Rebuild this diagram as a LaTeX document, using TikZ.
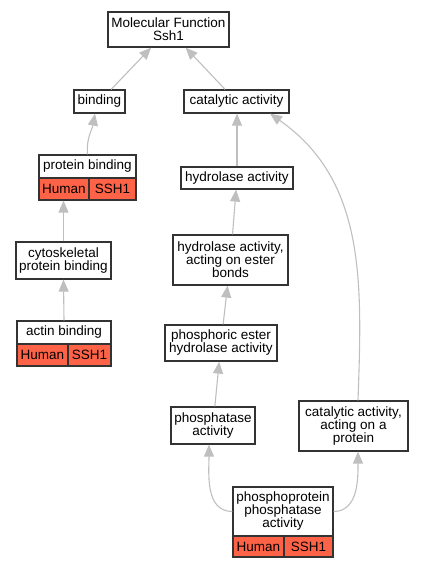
\documentclass[tikz,border=0pt]{standalone}
\usepackage{fontspec}
\setmainfont{Liberation Sans}
\usetikzlibrary{arrows.meta}
\definecolor{tomatored}{RGB}{255,99,71}

\begin{document}
\begin{tikzpicture}[x=1pt, y=1pt,
  term/.style={draw=black!80, line width=1.2pt, fill=white, inner sep=0pt,
    align=center, font=\fontsize{13.5}{13}\selectfont},
  cell/.style={term, fill=tomatored},
  edge/.style={draw=black!25, line width=1.1pt, -{Triangle[length=12pt,width=10pt]}}]
  \useasboundingbox (0,0) rectangle (423,-568);
	%Top term
	\node[term, minimum width=121, minimum height=35] (mf) at (168.5,-29.5) {Molecular Function\\Ssh1};
	%Binding branch
	\node[term, minimum width=51, minimum height=23] (bind) at (99.5,-101.5) {binding};
	\node[term, minimum width=97, minimum height=23] (pb) at (87.5,-166.5) {protein binding};
	\node[cell, minimum width=50, minimum height=22] (pbh) at (64,-189) {Human};
	\node[cell, minimum width=47, minimum height=22] (pbs) at (112.5,-189) {SSH1};
	\node[term, minimum width=95, minimum height=37] (cyto) at (63.5,-260.5) {cytoskeletal\\protein binding};
	\node[term, minimum width=94, minimum height=23] (actin) at (64,-332.5) {actin binding};
	\node[cell, minimum width=51, minimum height=22] (actinh) at (42.5,-355) {Human};
	\node[cell, minimum width=43, minimum height=22] (actins) at (89.5,-355) {SSH1};
	%Catalytic branch
	\node[term, minimum width=105, minimum height=23] (cat) at (236.5,-101.5) {catalytic activity};
	\node[term, minimum width=112, minimum height=22] (hyd) at (237,-178) {hydrolase activity};
	\node[term, minimum width=115, minimum height=50] (ester) at (230.5,-260) {hydrolase activity,\\acting on ester\\bonds};
	\node[term, minimum width=112, minimum height=36] (phos) at (221,-343) {phosphoric ester\\hydrolase activity};
	\node[term, minimum width=84, minimum height=37] (ptase) at (213,-425.5) {phosphatase\\activity};
	\node[term, minimum width=109, minimum height=50] (catp) at (353.5,-426) {catalytic activity,\\acting on a\\protein};
	\node[term, minimum width=100, minimum height=49] (ppp) at (283,-511.5) {phosphoprotein\\phosphatase\\activity};
	\node[cell, minimum width=51, minimum height=21] (ppph) at (258.5,-546.5) {Human};
	\node[cell, minimum width=49, minimum height=21] (ppps) at (308.5,-546.5) {SSH1};
	%Edges
	\draw[edge] (bind) -- (mf);
	\draw[edge] (cat) -- (mf);
	\draw[edge] (pb.north) to[out=95,in=-100] ([xshift=-4.5pt]bind.south);
	\draw[edge] (cyto.north) -- (cyto.north |- pbh.south);
	\draw[edge] (actin.north) -- (cyto.south);
	\draw[edge] (hyd.north) -- (hyd.north |- cat.south);
	\draw[edge] (ester) -- (hyd);
	\draw[edge] (phos) -- (ester);
	\draw[edge] (ptase) -- (phos);
	\draw[edge] ([xshift=4.5pt]catp.north) to[out=88,in=-35] ([xshift=33.5pt]cat.south);
	\draw[edge] (ppp.west) to[out=180,in=-90] ([xshift=-4pt]ptase.south);
	\draw[edge] (ppp.east) to[out=0,in=-90] ([xshift=4.5pt]catp.south);
\end{tikzpicture}
\end{document}
